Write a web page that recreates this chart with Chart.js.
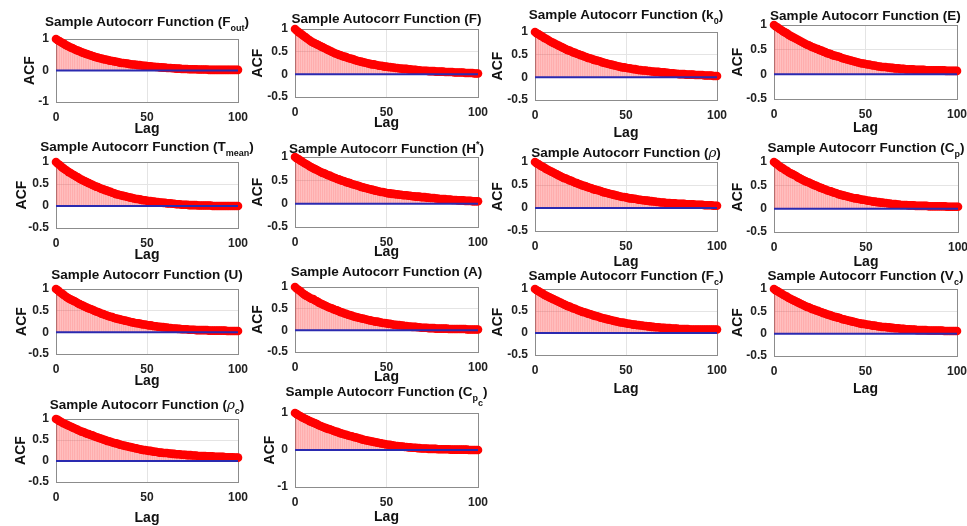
<!DOCTYPE html>
<html>
<head>
<meta charset="utf-8">
<script src="https://cdn.jsdelivr.net/npm/chart.js@4.4.1/dist/chart.umd.min.js"></script>
<style>
  html, body { margin: 0; padding: 0; background: #fff; }
  body { width: 967px; height: 526px; position: relative; overflow: hidden; font-family: "Liberation Sans", Arial, sans-serif; }
  .box { position: absolute; }
  .ttl { position: absolute; width: 320px; text-align: center; font-weight: bold; font-size: 13.5px; line-height: 16px; color: #111; white-space: nowrap; }
  .ttl sub { font-size: 9px; vertical-align: -5px; line-height: 0; }
  .ttl sup { font-size: 9px; vertical-align: 6px; line-height: 0; }
  .ttl i { font-family: "DejaVu Serif", serif; font-weight: normal; }
</style>
</head>
<body>
<script>
// lag index (x axis)
const lags = [0,1,2,3,4,5,6,7,8,9,10,11,12,13,14,15,16,17,18,19,20,21,22,23,24,25,26,27,28,29,
  30,31,32,33,34,35,36,37,38,39,40,41,42,43,44,45,46,47,48,49,50,51,52,53,54,55,56,57,58,59,
  60,61,62,63,64,65,66,67,68,69,70,71,72,73,74,75,76,77,78,79,80,81,82,83,84,85,86,87,88,89,
  90,91,92,93,94,95,96,97,98,99,100];

// sample autocorrelation
const acfFout = [1,.96,.93,.89,.86,.82,.79,.76,.73,.71, .68,.65,.63,.61,.58,.56,.54,.52,.50,.48,
  .46,.44,.42,.41,.39,.38,.36,.35,.34,.32, .31,.30,.29,.28,.27,.25,.24,.24,.23,.22,
  .21,.20,.19,.19,.18,.17,.17,.16,.15,.15, .14,.13,.13,.12,.12,.11,.11,.10,.10,.09,
  .09,.08,.08,.08,.07,.07,.06,.06,.06,.05, .05,.05,.05,.04,.04,.04,.04,.04,.03,.03,
  .03,.03,.03,.03,.02,.02,.02,.02,.02,.02, .02,.02,.02,.02,.02,.02,.02,.02,.02,.02, .02];
const acfF = [1,.96,.93,.90,.87,.84,.81,.78,.75,.72, .70,.68,.66,.64,.62,.60,.58,.56,.54,.52,
  .50,.48,.46,.45,.43,.42,.40,.39,.38,.36, .35,.34,.33,.31,.30,.29,.28,.27,.26,.25,
  .24,.23,.22,.22,.21,.20,.19,.19,.18,.17, .17,.16,.16,.15,.15,.14,.14,.13,.13,.12,
  .12,.12,.11,.11,.10,.10,.10,.09,.09,.08, .08,.08,.08,.07,.07,.07,.07,.06,.06,.06,
  .06,.06,.05,.05,.05,.05,.05,.04,.04,.04, .04,.04,.04,.03,.03,.03,.03,.03,.02,.02, .02];
const acfK0 = [1,.97,.95,.92,.90,.87,.85,.83,.80,.78, .76,.74,.72,.70,.68,.66,.64,.62,.60,.59,
  .57,.55,.54,.52,.51,.49,.48,.46,.45,.43, .42,.41,.39,.38,.37,.36,.35,.33,.32,.31,
  .30,.29,.28,.27,.26,.25,.24,.23,.22,.22, .21,.20,.20,.19,.18,.18,.17,.16,.16,.15,
  .15,.15,.14,.14,.13,.13,.12,.12,.12,.11, .11,.11,.10,.10,.09,.09,.09,.08,.08,.07,
  .07,.07,.07,.06,.06,.06,.06,.06,.05,.05, .05,.05,.05,.04,.04,.04,.04,.04,.03,.03, .03];
const acfE = [1,.97,.95,.92,.90,.87,.85,.83,.80,.78, .76,.74,.72,.70,.68,.66,.64,.62,.60,.59,
  .57,.55,.54,.52,.51,.49,.48,.46,.45,.43, .42,.41,.39,.38,.37,.36,.35,.33,.32,.31,
  .30,.29,.28,.27,.26,.25,.24,.23,.22,.22, .21,.20,.20,.19,.18,.18,.17,.16,.16,.15,
  .15,.15,.14,.14,.13,.13,.12,.12,.12,.11, .11,.11,.10,.10,.10,.10,.10,.09,.09,.09,
  .09,.09,.09,.08,.08,.08,.08,.08,.08,.08, .08,.08,.08,.08,.07,.07,.07,.07,.07,.07, .07];
const acfTmean = [1,.96,.93,.89,.86,.83,.80,.77,.75,.72, .70,.67,.65,.62,.60,.58,.56,.54,.52,.50,
  .48,.46,.44,.43,.41,.39,.38,.36,.35,.33, .32,.30,.29,.27,.26,.25,.24,.23,.22,.21,
  .20,.19,.18,.17,.16,.16,.15,.14,.13,.13, .12,.11,.11,.10,.10,.09,.09,.08,.08,.07,
  .07,.06,.06,.06,.05,.05,.04,.04,.04,.03, .03,.03,.03,.02,.02,.02,.02,.02,.01,.01,
  .01,.01,.01,.01,.01,.01,0,0,0,0, 0,0,0,0,0,0,0,0,0,0, 0];
const acfHstar = [1,.97,.95,.92,.90,.87,.85,.83,.80,.78, .76,.74,.72,.70,.68,.66,.65,.63,.61,.60,
  .58,.56,.55,.53,.52,.50,.49,.48,.46,.45, .44,.42,.41,.40,.39,.38,.36,.35,.34,.33,
  .32,.31,.30,.29,.28,.27,.26,.25,.25,.24, .23,.22,.22,.21,.21,.20,.20,.19,.19,.18,
  .18,.18,.17,.17,.16,.16,.15,.15,.15,.14, .14,.14,.13,.13,.12,.12,.12,.11,.11,.10,
  .10,.10,.10,.09,.09,.09,.08,.08,.08,.07, .07,.07,.07,.06,.06,.06,.06,.05,.05,.05, .05];
const acfRho = [1,.97,.95,.92,.90,.88,.85,.83,.81,.79, .77,.75,.73,.71,.69,.67,.65,.64,.62,.60,
  .59,.57,.55,.54,.52,.51,.49,.48,.47,.45, .44,.43,.41,.40,.39,.38,.37,.35,.34,.33,
  .32,.31,.30,.29,.28,.27,.26,.25,.24,.24, .23,.22,.21,.21,.20,.20,.19,.18,.18,.17,
  .17,.16,.16,.15,.15,.14,.14,.13,.13,.12, .12,.12,.11,.11,.11,.10,.10,.10,.09,.09,
  .09,.09,.09,.08,.08,.08,.08,.08,.07,.07, .07,.07,.07,.06,.06,.06,.06,.06,.05,.05, .05];
const acfCp = [1,.97,.94,.91,.88,.86,.83,.81,.78,.76, .74,.72,.70,.67,.65,.63,.61,.59,.57,.56,
  .54,.52,.50,.49,.47,.45,.44,.42,.41,.39, .38,.37,.35,.34,.33,.31,.30,.29,.28,.27,
  .26,.25,.24,.23,.22,.22,.21,.20,.19,.19, .18,.17,.17,.16,.15,.15,.14,.14,.13,.13,
  .12,.12,.11,.11,.10,.10,.10,.09,.09,.08, .08,.08,.08,.07,.07,.07,.07,.06,.06,.06,
  .06,.06,.06,.06,.05,.05,.05,.05,.05,.05, .05,.05,.05,.05,.04,.04,.04,.04,.04,.04, .04];
const acfU = [1,.97,.93,.90,.87,.84,.81,.78,.76,.74, .72,.70,.67,.65,.63,.61,.59,.57,.55,.54,
  .52,.50,.48,.47,.45,.43,.42,.40,.39,.37, .36,.35,.33,.32,.31,.30,.29,.28,.27,.26,
  .25,.24,.23,.22,.21,.21,.20,.19,.18,.18, .17,.16,.16,.15,.14,.14,.13,.13,.12,.12,
  .11,.11,.10,.10,.09,.09,.09,.08,.08,.07, .07,.07,.07,.06,.06,.06,.06,.05,.05,.05,
  .05,.05,.05,.05,.04,.04,.04,.04,.04,.04, .04,.04,.04,.04,.03,.03,.03,.03,.03,.03, .03];
const acfA = [1,.96,.93,.90,.86,.83,.80,.78,.75,.73, .72,.69,.67,.64,.62,.60,.58,.56,.54,.52,
  .51,.49,.47,.46,.44,.42,.41,.39,.38,.36, .35,.34,.32,.31,.30,.29,.28,.27,.26,.25,
  .24,.23,.22,.21,.20,.20,.19,.18,.17,.17, .16,.15,.15,.14,.13,.13,.12,.12,.11,.11,
  .10,.10,.09,.09,.08,.08,.08,.07,.07,.06, .06,.06,.06,.05,.05,.05,.05,.04,.04,.04,
  .04,.04,.04,.04,.03,.03,.03,.03,.03,.03, .03,.03,.03,.03,.02,.02,.02,.02,.02,.02, .02];
const acfFc = [1,.97,.95,.92,.90,.87,.85,.83,.81,.79, .77,.75,.73,.71,.69,.67,.65,.63,.61,.60,
  .58,.56,.55,.53,.51,.50,.48,.47,.46,.44, .43,.42,.40,.39,.38,.37,.35,.34,.33,.32,
  .31,.30,.29,.28,.27,.26,.25,.24,.24,.23, .22,.21,.21,.20,.19,.19,.18,.18,.17,.17,
  .16,.16,.15,.15,.14,.14,.13,.13,.13,.12, .12,.12,.11,.11,.11,.10,.10,.10,.10,.09,
  .09,.09,.09,.09,.09,.08,.08,.08,.08,.08, .08,.08,.08,.08,.08,.08,.08,.08,.08,.08, .08];
const acfVc = [1,.97,.95,.92,.90,.87,.85,.83,.80,.78, .76,.74,.72,.70,.68,.66,.64,.62,.60,.59,
  .57,.55,.54,.52,.51,.49,.48,.46,.45,.43, .42,.41,.39,.38,.37,.36,.35,.33,.32,.31,
  .30,.29,.28,.27,.26,.25,.24,.23,.22,.22, .21,.20,.20,.19,.18,.18,.17,.16,.16,.15,
  .15,.15,.14,.14,.13,.13,.12,.12,.12,.11, .11,.11,.10,.10,.10,.09,.09,.09,.08,.08,
  .08,.08,.08,.08,.07,.07,.07,.07,.07,.07, .07,.07,.07,.06,.06,.06,.06,.06,.06,.06, .06];
const acfRhoC = [1,.98,.95,.93,.90,.88,.86,.84,.82,.80, .78,.76,.74,.72,.70,.69,.67,.65,.64,.62,
  .61,.59,.57,.56,.54,.53,.51,.50,.48,.47, .46,.44,.43,.42,.41,.39,.38,.37,.36,.35,
  .34,.33,.32,.31,.30,.29,.28,.27,.26,.26, .25,.24,.24,.23,.22,.22,.21,.20,.20,.19,
  .19,.19,.18,.18,.17,.17,.16,.16,.16,.15, .15,.15,.14,.14,.14,.13,.13,.13,.12,.12,
  .12,.12,.12,.11,.11,.11,.11,.10,.10,.10, .10,.10,.10,.09,.09,.09,.09,.09,.08,.08, .08];
const acfCpc = [1,.97,.94,.91,.88,.86,.83,.81,.78,.76, .74,.72,.70,.67,.65,.63,.61,.59,.57,.56,
  .54,.52,.50,.49,.47,.45,.44,.42,.41,.39, .38,.37,.35,.34,.33,.31,.30,.28,.27,.26,
  .25,.24,.23,.22,.21,.20,.19,.18,.17,.16, .15,.14,.14,.13,.12,.11,.11,.10,.09,.09,
  .08,.08,.07,.07,.06,.06,.06,.05,.05,.04, .04,.04,.04,.03,.03,.03,.03,.03,.02,.02,
  .02,.02,.02,.02,.02,.01,.01,.01,.01,.01, .01,.01,.01,.01,.01,0,0,0,0,0, 0];

// panel placement: plot box L..R / T..B, title centre, 'Lag' centre, 'ACF' centre
const panels = [
  { s: acfFout,  title: 'Sample Autocorr Function (F<sub>out</sub>)', L: 56,  R: 238, T: 39,  B: 102, ty: 22,  lag: 128, acf: 30,  ymin: -1,   step: 1 },
  { s: acfF,     title: 'Sample Autocorr Function (F)',                L: 295, R: 478, T: 29,  B: 97,  ty: 19,  lag: 122, acf: 258, ymin: -0.5, step: 0.5 },
  { s: acfK0,    title: 'Sample Autocorr Function (k<sub>0</sub>)',   L: 535, R: 717, T: 32,  B: 100, ty: 15,  lag: 132, acf: 498, ymin: -0.5, step: 0.5 },
  { s: acfE,     title: 'Sample Autocorr Function (E)',                L: 774, R: 957, T: 25,  B: 99,  ty: 16,  lag: 127, acf: 738, ymin: -0.5, step: 0.5 },
  { s: acfTmean, title: 'Sample Autocorr Function (T<sub>mean</sub>)', L: 56, R: 238, T: 162, B: 228, ty: 147, lag: 254, acf: 22,  ymin: -0.5, step: 0.5 },
  { s: acfHstar, title: 'Sample Autocorr Function (H<sup>*</sup>)',   L: 295, R: 478, T: 157, B: 227, ty: 149, lag: 251, acf: 258, ymin: -0.5, step: 0.5 },
  { s: acfRho,   title: 'Sample Autocorr Function (<i>&rho;</i>)',    L: 535, R: 717, T: 162, B: 231, ty: 152, lag: 261, acf: 498, ymin: -0.5, step: 0.5 },
  { s: acfCp,    title: 'Sample Autocorr Function (C<sub>p</sub>)',   L: 774, R: 958, T: 162, B: 232, ty: 148, lag: 261, acf: 738, ymin: -0.5, step: 0.5 },
  { s: acfU,     title: 'Sample Autocorr Function (U)',                L: 56,  R: 238, T: 289, B: 354, ty: 275, lag: 380, acf: 22,  ymin: -0.5, step: 0.5 },
  { s: acfA,     title: 'Sample Autocorr Function (A)',                L: 295, R: 478, T: 287, B: 352, ty: 272, lag: 376, acf: 258, ymin: -0.5, step: 0.5 },
  { s: acfFc,    title: 'Sample Autocorr Function (F<sub>c</sub>)',   L: 535, R: 717, T: 289, B: 355, ty: 276, lag: 388, acf: 498, ymin: -0.5, step: 0.5 },
  { s: acfVc,    title: 'Sample Autocorr Function (V<sub>c</sub>)',   L: 774, R: 957, T: 289, B: 356, ty: 276, lag: 388, acf: 738, ymin: -0.5, step: 0.5 },
  { s: acfRhoC,  title: 'Sample Autocorr Function (<i>&rho;</i><sub>c</sub>)', L: 56, R: 238, T: 419, B: 482, ty: 404, lag: 517, acf: 21, ymin: -0.5, step: 0.5 },
  { s: acfCpc,   title: 'Sample Autocorr Function (C<sub>p<sub>c</sub></sub>)', L: 295, R: 478, T: 413, B: 487, ty: 392, lag: 516, acf: 270, ymin: -1, step: 1 }
];

const LH = 14 * 1.2;   // axis title line height
const PAD_T = 12, PAD_R = 14;
const edgeGrey = '#8c8c8c', gridGrey = '#e4e4e4';

// grey frame round the plot box, like a matlab axes (under the markers)
const frame = {
  id: 'frame',
  beforeDatasetsDraw(chart) {
    const { ctx, chartArea: a } = chart;
    ctx.save();
    ctx.strokeStyle = edgeGrey;
    ctx.lineWidth = 1;
    ctx.strokeRect(Math.round(a.left) + 0.5, Math.round(a.top) + 0.5, Math.round(a.right - a.left), Math.round(a.bottom - a.top));
    ctx.restore();
  }
};

panels.forEach(p => {
  const W = Math.round(p.L - p.acf + LH / 2);
  const H = Math.round(p.lag - p.B + LH / 2 + 2);
  const w = W + (p.R - p.L) + PAD_R;
  const h = PAD_T + (p.B - p.T) + H;

  const box = document.createElement('div');
  box.className = 'box';
  box.style.left = (p.L - W) + 'px';
  box.style.top = (p.T - PAD_T) + 'px';
  const cv = document.createElement('canvas');
  cv.width = w; cv.height = h;
  cv.style.width = w + 'px'; cv.style.height = h + 'px';
  box.appendChild(cv);
  document.body.appendChild(box);

  const ttl = document.createElement('div');
  ttl.className = 'ttl';
  ttl.style.left = ((p.L + p.R) / 2 - 160) + 'px';
  ttl.style.top = (p.ty - 8) + 'px';
  ttl.innerHTML = p.title;
  document.body.appendChild(ttl);

  const pts = lags.map((x, i) => ({ x: x, y: p.s[i] }));
  const tickFont = { family: 'Liberation Sans', size: 12, weight: 'bold' };
  const labelFont = { family: 'Liberation Sans', size: 14, weight: 'bold' };

  new Chart(cv, {
    type: 'scatter',
    data: {
      datasets: [
        { type: 'bar', data: pts, backgroundColor: 'rgba(255,60,60,0.42)', barThickness: 1, order: 3 },
        { type: 'scatter', data: pts, pointRadius: 4.3, backgroundColor: '#ff0000', borderWidth: 0, order: 2, clip: false },
        { type: 'line', data: [{ x: 0, y: 0 }, { x: 100, y: 0 }], borderColor: '#2a2ab0', borderWidth: 2, pointRadius: 0, order: 1 }
      ]
    },
    options: {
      responsive: false,
      animation: false,
      events: [],
      layout: { padding: { top: PAD_T, right: PAD_R, left: 0, bottom: 0 } },
      plugins: { legend: { display: false }, tooltip: { enabled: false } },
      scales: {
        x: {
          type: 'linear', min: 0, max: 100, offset: false,
          afterFit: s => { s.height = H; s.paddingLeft = 0; s.paddingRight = 0; },
          ticks: { stepSize: 50, font: tickFont, color: '#222', padding: 8, maxRotation: 0 },
          grid: { color: gridGrey, drawTicks: false, offset: false },
          border: { display: false },
          title: { display: true, text: 'Lag', color: '#111', padding: 0, font: labelFont }
        },
        y: {
          min: p.ymin, max: 1,
          ticks: { stepSize: p.step, font: tickFont, color: '#222', padding: 7, callback: v => String(v) },
          afterFit: s => { s.width = W; s.paddingTop = 0; s.paddingBottom = 0; },
          grid: { color: gridGrey, drawTicks: false },
          border: { display: false },
          title: { display: true, text: 'ACF', color: '#111', padding: 0, font: labelFont }
        }
      }
    },
    plugins: [frame]
  });
});
</script>
</body>
</html>
